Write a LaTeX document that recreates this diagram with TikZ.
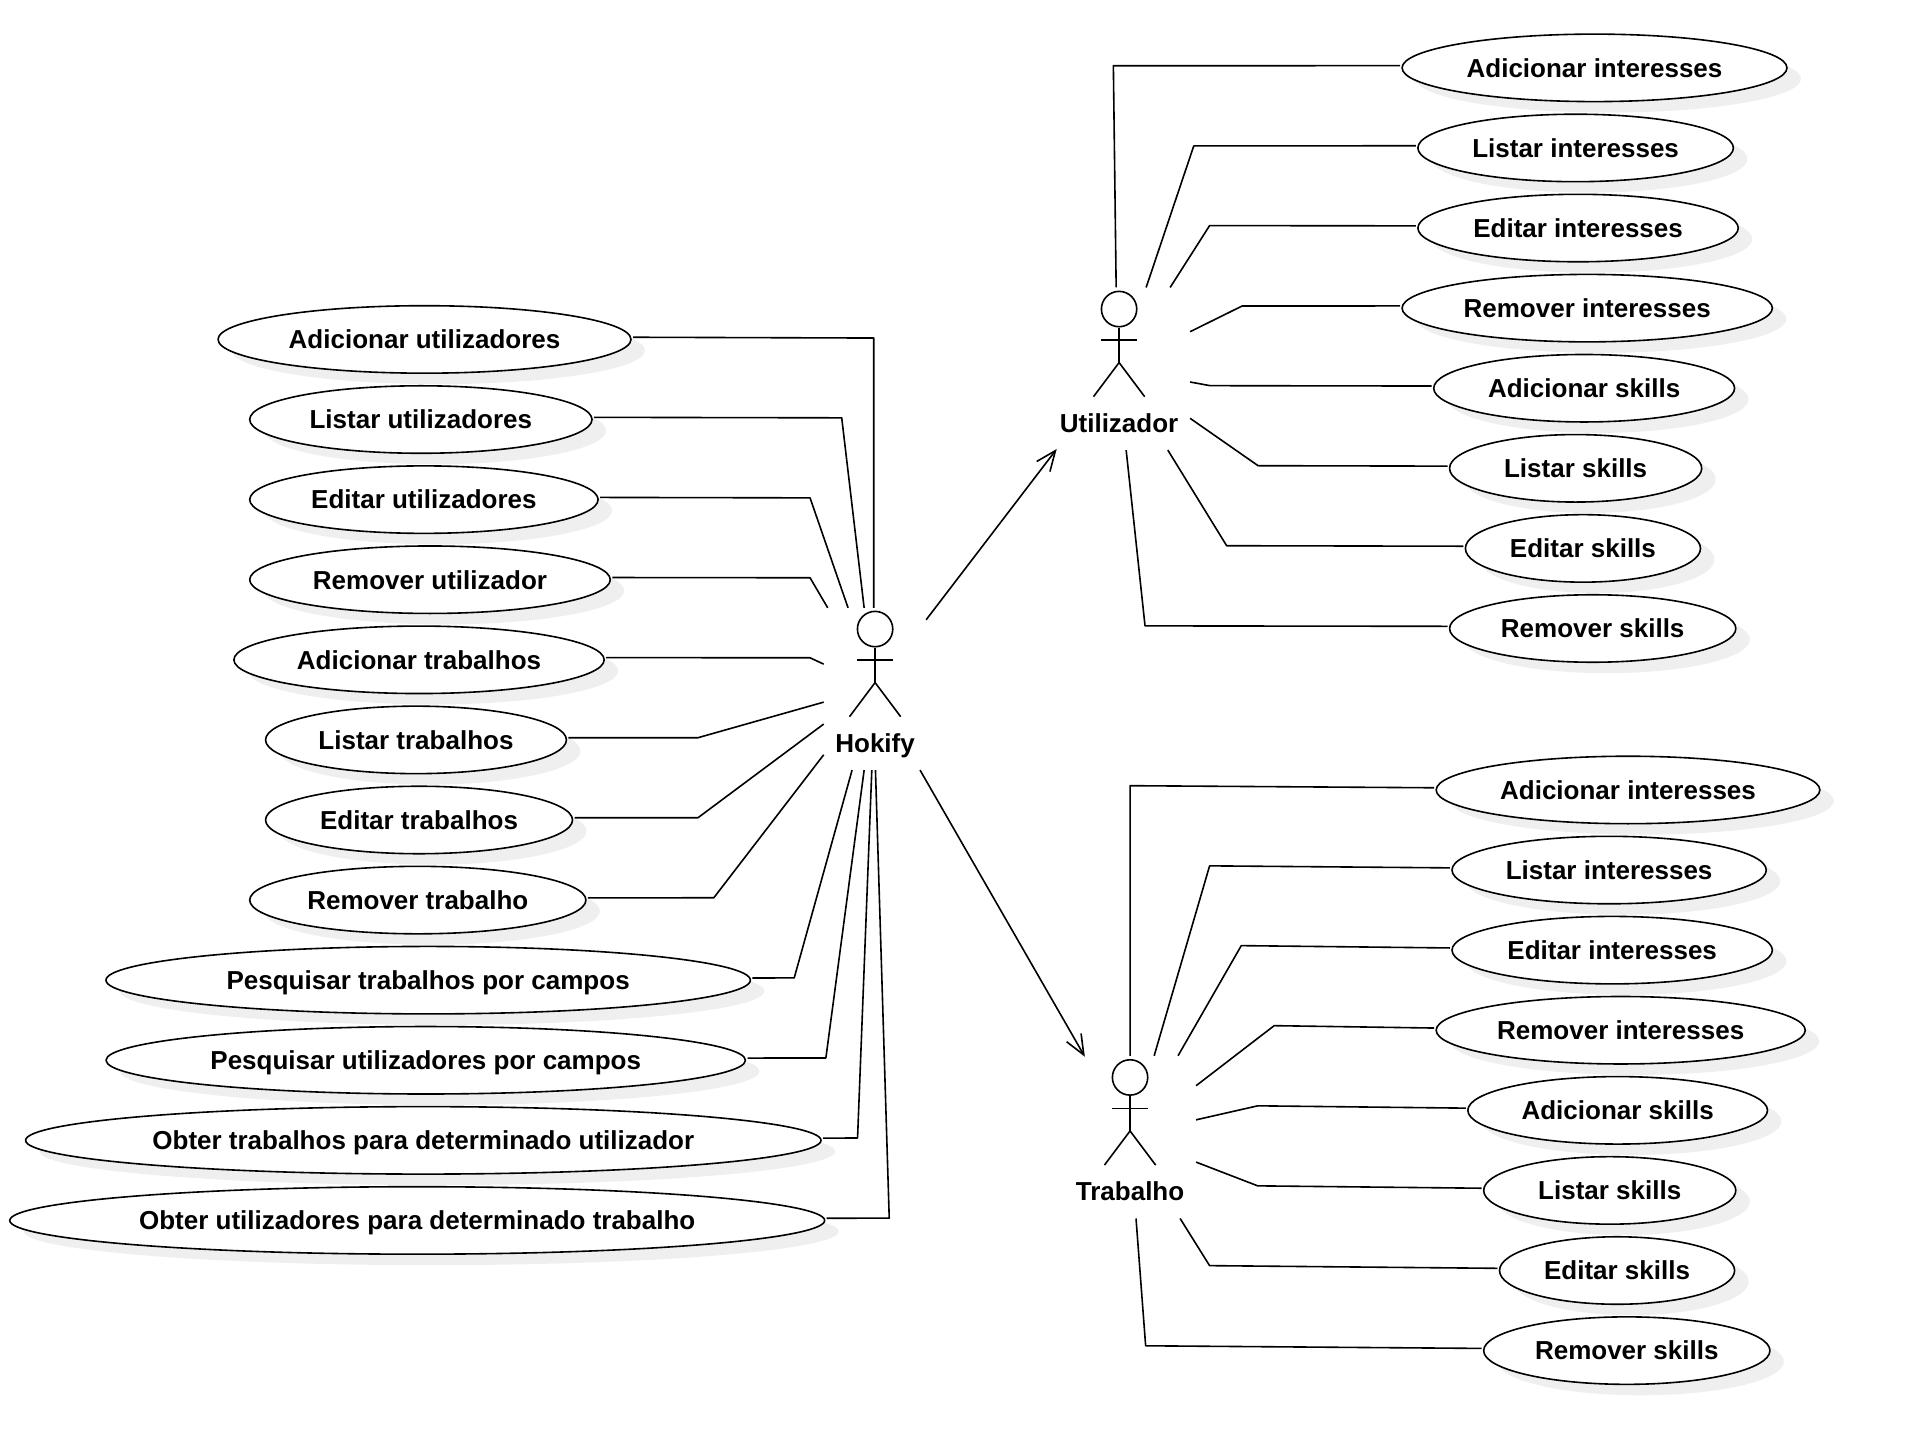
\documentclass[tikz,border=0pt]{standalone}
\usepackage{fontspec}
\setmainfont{Liberation Sans}
\usetikzlibrary{shapes.geometric,arrows.meta}
\definecolor{shadowgray}{HTML}{EFEFEF}
\tikzset{
  every picture/.style={x=0.9135pt,y=-0.9135pt,line width=1.2pt,line join=round},
  usecase/.style={ellipse,draw=black,fill=white,inner sep=0pt,text height=14pt,text depth=0pt,font=\fontsize{19.5}{22}\selectfont\bfseries},
  ucshadow/.style={ellipse,fill=shadowgray,inner sep=0pt},
  actorlabel/.style={inner sep=0pt,text height=14pt,text depth=0pt,font=\fontsize{19.5}{22}\selectfont\bfseries},
  actorhead/.style={circle,draw=black,fill=white,inner sep=0pt,minimum size=26.5pt},
  link/.style={draw=black},
  assoc/.style={draw=black,-{Straight Barb[length=15pt,width=12.5pt]}}
}
% name, x1, x2, cy, text
\newcommand{\usecasenode}[5]{%
  \node[ucshadow,minimum width={(#3-#2)*0.9135pt},minimum height=50.6pt] at ({(#2+#3)/2+11.5},{#4+9}) {};
  \node[usecase,minimum width={(#3-#2)*0.9135pt},minimum height=50.6pt] (#1) at ({(#2+#3)/2},#4) {#5};
}
% name, x, y, label
\newcommand{\actorfig}[4]{%
  \node[actorhead] (#1) at (#2,#3) {};
  \draw (#1.south) -- ++(0,28.8) coordinate (#1hip);
  \draw ([shift={(-15,10.4)}]#1.south) -- ([shift={(15,10.4)}]#1.south);
  \draw ([shift={(-21,28)}]#1hip) -- (#1hip) -- ([shift={(21,28)}]#1hip);
  \node[actorlabel] (#1label) at (#2,{#3+93.5}) {#4};
}
\begin{document}
\begin{tikzpicture}
\useasboundingbox (0,0) rectangle (1568,1190.4);

% ---- actors
\actorfig{hokify}{718.4}{516.4}{Hokify}
\actorfig{utilizador}{918.7}{253.7}{Utilizador}
\actorfig{trabalho}{927.7}{884.5}{Trabalho}

% ---- Hokify use cases
\usecasenode{hA}{179}{518}{278.65}{Adicionar utilizadores}
\usecasenode{hB}{205}{486}{344.4}{Listar utilizadores}
\usecasenode{hC}{205}{491}{410.15}{Editar utilizadores}
\usecasenode{hD}{205}{501}{475.9}{Remover utilizador}
\usecasenode{hE}{192}{496}{541.65}{Adicionar trabalhos}
\usecasenode{hF}{218}{465}{607.4}{Listar trabalhos}
\usecasenode{hG}{218}{470}{673.15}{Editar trabalhos}
\usecasenode{hH}{205}{481}{738.9}{Remover trabalho}
\usecasenode{hI}{87}{616}{804.65}{Pesquisar trabalhos por campos}
\usecasenode{hJ}{87}{612}{870.4}{Pesquisar utilizadores por campos}
\usecasenode{hK}{21}{674}{936.15}{Obter trabalhos para determinado utilizador}
\usecasenode{hL}{8}{677}{1001.9}{Obter utilizadores para determinado trabalho}

% ---- Utilizador use cases
\usecasenode{uA}{1151}{1467}{55.7}{Adicionar interesses}
\usecasenode{uB}{1164}{1423}{121.45}{Listar interesses}
\usecasenode{uC}{1164}{1427}{187.2}{Editar interesses}
\usecasenode{uD}{1151}{1455}{252.95}{Remover interesses}
\usecasenode{uE}{1177}{1424}{318.7}{Adicionar skills}
\usecasenode{uF}{1190}{1397}{384.45}{Listar skills}
\usecasenode{uG}{1203}{1396}{450.2}{Editar skills}
\usecasenode{uH}{1190}{1425}{515.95}{Remover skills}

% ---- Trabalho use cases
\usecasenode{tA}{1179}{1494}{648.5}{Adicionar interesses}
\usecasenode{tB}{1192}{1450}{714.25}{Listar interesses}
\usecasenode{tC}{1192}{1455}{780}{Editar interesses}
\usecasenode{tD}{1179}{1482}{845.75}{Remover interesses}
\usecasenode{tE}{1205}{1451}{911.5}{Adicionar skills}
\usecasenode{tF}{1218}{1425}{977.25}{Listar skills}
\usecasenode{tG}{1231}{1424}{1043}{Editar skills}
\usecasenode{tH}{1218}{1453}{1108.75}{Remover skills}

% ---- free ends near the actors
\coordinate (hkA) at (717.3,499);
\coordinate (hkB) at (709.4,499);
\coordinate (hkC) at (696.2,499);
\coordinate (hkD) at (679.5,499);
\coordinate (hkE) at (676.2,545.2);
\coordinate (hkF) at (676.2,576.4);
\coordinate (hkG) at (676.2,594.4);
\coordinate (hkH) at (676.2,619.6);
\coordinate (hkI) at (699.5,632.2);
\coordinate (hkJ) at (709.4,632.2);
\coordinate (hkK) at (715.7,632.2);
\coordinate (hkL) at (718.7,632.2);
\coordinate (hkU) at (760.3,508.8);
\coordinate (hkT) at (755.3,632.2);

\coordinate (utA) at (916.3,236);
\coordinate (utB) at (940.9,236);
\coordinate (utC) at (960.6,236);
\coordinate (utD) at (977,272.3);
\coordinate (utE) at (977,313.6);
\coordinate (utF) at (977,343.4);
\coordinate (utG) at (958.7,369.5);
\coordinate (utH) at (924.5,369.5);
\coordinate (utIn) at (867.5,368.6);

\coordinate (trA) at (927.7,866.7);
\coordinate (trB) at (947.5,866.7);
\coordinate (trC) at (967.1,866.7);
\coordinate (trD) at (981.9,891.3);
\coordinate (trE) at (981.9,919.3);
\coordinate (trF) at (981.9,954);
\coordinate (trG) at (968.8,1000.3);
\coordinate (trH) at (932.6,1000.3);
\coordinate (trIn) at (890.6,867.5);

% ---- connectors: Hokify
\draw[link] ([shift={(1,-1.8)}]hA.east) -- (717.3,277.5) -- (hkA);
\draw[link] ([shift={(1,-1.8)}]hB.east) -- (691,343) -- (hkB);
\draw[link] ([shift={(1,-1.8)}]hC.east) -- (665,408.7) -- (hkC);
\draw[link] ([shift={(1,-1.8)}]hD.east) -- (665,474.3) -- (hkD);
\draw[link] ([shift={(1,-1.8)}]hE.east) -- (665,540) -- (hkE);
\draw[link] ([shift={(1,-1.8)}]hF.east) -- (573,605.6) -- (hkF);
\draw[link] ([shift={(1,-1.8)}]hG.east) -- (573,671.3) -- (hkG);
\draw[link] ([shift={(1,-1.8)}]hH.east) -- (586,737) -- (hkH);
\draw[link] ([shift={(1,-1.8)}]hI.east) -- (652,802.8) -- (hkI);
\draw[link] ([shift={(1,-1.8)}]hJ.east) -- (678,868.5) -- (hkJ);
\draw[link] ([shift={(1,-1.8)}]hK.east) -- (704,934.2) -- (hkK);
\draw[link] ([shift={(1,-1.8)}]hL.east) -- (730,1000) -- (hkL);

% ---- connectors: Utilizador
\draw[link] ([shift={(-1,-1.8)}]uA.west) -- (914,54) -- (utA);
\draw[link] ([shift={(-1,-1.8)}]uB.west) -- (980,119.8) -- (utB);
\draw[link] ([shift={(-1,-1.8)}]uC.west) -- (993,185.2) -- (utC);
\draw[link] ([shift={(-1,-1.8)}]uD.west) -- (1019.7,251.2) -- (utD);
\draw[link] ([shift={(-1,-1.8)}]uE.west) -- (993.4,316.6) -- (utE);
\draw[link] ([shift={(-1,-1.8)}]uF.west) -- (1032.8,382.3) -- (utF);
\draw[link] ([shift={(-1,-1.8)}]uG.west) -- (1007,448) -- (utG);
\draw[link] ([shift={(-1,-1.8)}]uH.west) -- (940,513.8) -- (utH);

% ---- connectors: Trabalho
\draw[link] ([shift={(-1,-1.8)}]tA.west) -- (927.7,645) -- (trA);
\draw[link] ([shift={(-1,-1.8)}]tB.west) -- (993,710.8) -- (trB);
\draw[link] ([shift={(-1,-1.8)}]tC.west) -- (1019,776.3) -- (trC);
\draw[link] ([shift={(-1,-1.8)}]tD.west) -- (1046,842) -- (trD);
\draw[link] ([shift={(-1,-1.8)}]tE.west) -- (1032.5,907.8) -- (trE);
\draw[link] ([shift={(-1,-1.8)}]tF.west) -- (1032.5,973.5) -- (trF);
\draw[link] ([shift={(-1,-1.8)}]tG.west) -- (993,1039) -- (trG);
\draw[link] ([shift={(-1,-1.8)}]tH.west) -- (940.5,1104.8) -- (trH);

% ---- associations between actors
\draw[assoc] (hkU) -- (utIn);
\draw[assoc] (hkT) -- (trIn);
\end{tikzpicture}
\end{document}
